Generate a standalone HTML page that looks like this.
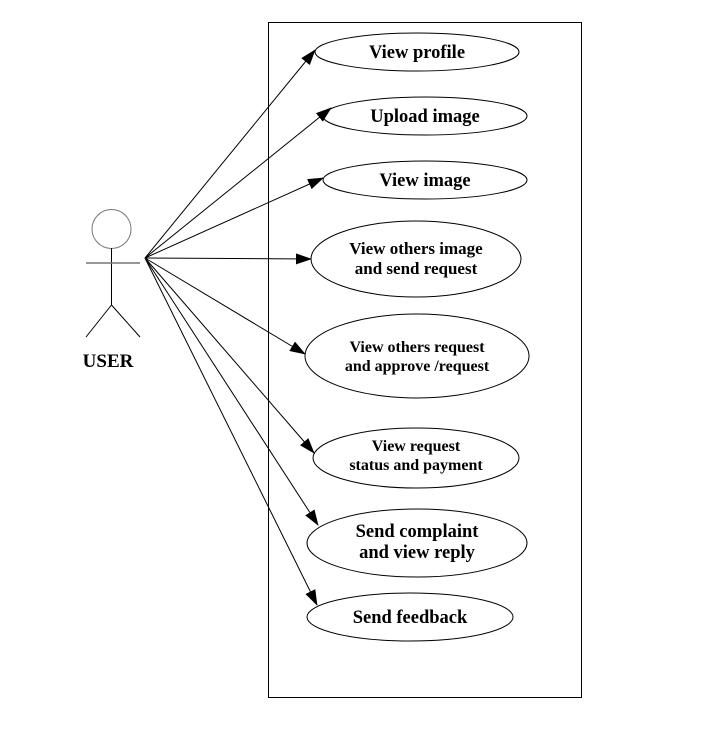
<!DOCTYPE html>
<html><head><meta charset="utf-8"><style>
html,body{margin:0;padding:0;background:#fff;}
svg{display:block;}
text{font-family:"Liberation Serif",serif;font-weight:bold;fill:#000;text-anchor:middle;}
</style></head><body>
<svg width="703" height="745" viewBox="0 0 703 745" xmlns="http://www.w3.org/2000/svg">
<defs><marker id="a" markerWidth="16" markerHeight="11" refX="15" refY="5.5" orient="auto" markerUnits="userSpaceOnUse"><path d="M0,0 L16,5.5 L0,11 z" fill="#000"/></marker></defs>
<rect x="268.5" y="22.5" width="313" height="675" fill="none" stroke="#000" stroke-width="1"/>
<g fill="none" stroke="#000" stroke-width="1">
<circle cx="111.5" cy="229" r="19.5" stroke="#777"/>
<line x1="111.5" y1="248" x2="111.5" y2="305"/>
<line x1="86" y1="263" x2="140" y2="263" stroke="#777" stroke-width="1.5"/>
<line x1="111.5" y1="305" x2="86" y2="337"/>
<line x1="111.5" y1="305" x2="140" y2="337"/>
<ellipse cx="417" cy="52" rx="102" ry="19"/>
<ellipse cx="425" cy="116" rx="102" ry="19"/>
<ellipse cx="425" cy="180" rx="102" ry="19"/>
<ellipse cx="416" cy="259" rx="105" ry="38"/>
<ellipse cx="417" cy="356" rx="112" ry="42"/>
<ellipse cx="416" cy="458" rx="103" ry="30"/>
<ellipse cx="417" cy="543" rx="110" ry="34"/>
<ellipse cx="410" cy="617" rx="103" ry="24"/>
<g marker-end="url(#a)">
<line x1="145" y1="258" x2="315" y2="50"/>
<line x1="145" y1="258" x2="331" y2="108"/>
<line x1="145" y1="258" x2="323" y2="178"/>
<line x1="145" y1="258" x2="311" y2="259"/>
<line x1="145" y1="258" x2="305" y2="354"/>
<line x1="145" y1="258" x2="314" y2="453"/>
<line x1="145" y1="258" x2="318" y2="525"/>
<line x1="145" y1="258" x2="317" y2="605"/>
</g>
</g>
<text x="108" y="367" font-size="19">USER</text>
<text x="417" y="58" font-size="18.5">View profile</text>
<text x="425" y="122" font-size="18.5">Upload image</text>
<text x="425" y="186" font-size="18.5">View image</text>
<text x="416" y="254" font-size="17">View others image</text>
<text x="416" y="274" font-size="17">and send request</text>
<text x="417" y="352" font-size="16">View others request</text>
<text x="417" y="371" font-size="16">and approve /request</text>
<text x="416" y="451" font-size="16">View request</text>
<text x="416" y="470" font-size="16">status and payment</text>
<text x="417" y="537" font-size="18.5">Send complaint</text>
<text x="417" y="558" font-size="18.5">and view reply</text>
<text x="410" y="623" font-size="18.5">Send feedback</text>
</svg>
</body></html>
